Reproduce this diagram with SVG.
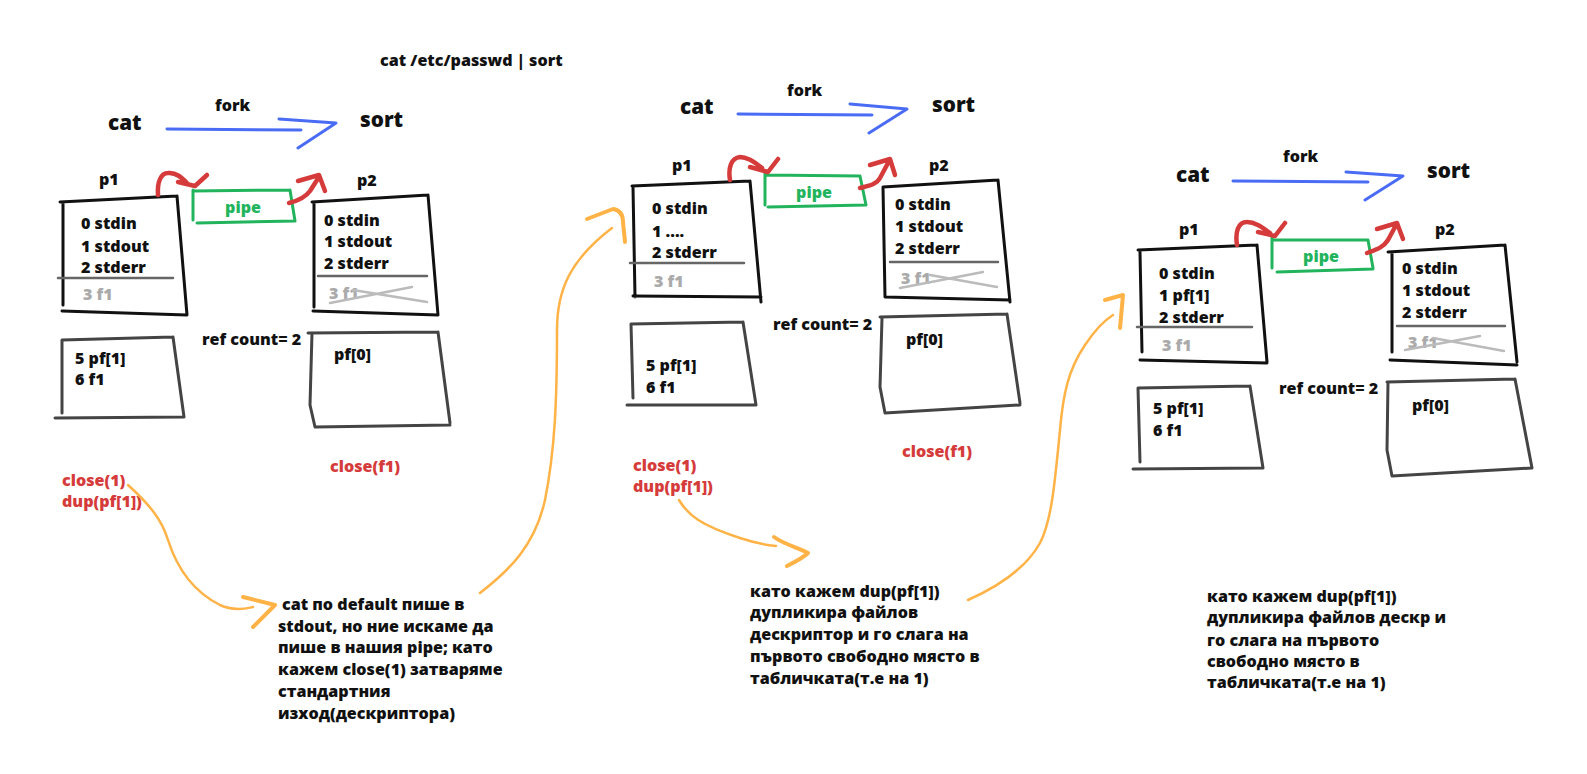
<svg xmlns="http://www.w3.org/2000/svg" width="1587" height="774" viewBox="0 0 1587 774">
<style>
text{font-family:"Open Sans","Noto Sans",sans-serif;font-weight:800;font-size:16.1px;fill:#111}
.big{font-size:20.7px}
.gray{fill:#aaa}
.red{fill:#d63b3b}
.green{fill:#22b45c}
.mid{text-anchor:middle}
path{fill:none;stroke-linecap:round;stroke-linejoin:round}
.bx{stroke:#111;stroke-width:3}
.bl{stroke:#444;stroke-width:3}
.sep{stroke:#666;stroke-width:2.5}
.x{stroke:#bbb;stroke-width:2.5}
.pp{stroke:#22b45c;stroke-width:3}
.rd{stroke:#d63b3b;stroke-width:4.5}
.bu{stroke:#4a6cf5;stroke-width:3}
.or{stroke:#ffb347;stroke-width:2.5}
.orh{stroke:#ffb347;stroke-width:4}
</style>
<rect width="1587" height="774" fill="#fff"/>

<g id="title"><text x="380" y="66">cat /etc/passwd | sort</text></g>

<!-- Panel 1 -->
<g id="p1-cat"><text class="big" x="108" y="130">cat</text></g>
<g id="p1-sort"><text class="big" x="360" y="127">sort</text></g>
<g id="p1-proc1">
<text x="99" y="185">p1</text>
<path class="bx" d="M63,202 L63,305 M60,202 L177,196 M177,196 L187,315 M62,311 L187,315"/>
<path class="sep" d="M58,278 L173,278"/>
<text x="81" y="229">0 stdin</text><text x="81" y="252">1 stdout</text><text x="81" y="273">2 stderr</text>
<text class="gray" x="83" y="300">3 f1</text>
</g>
<g id="p1-pipe">
<path class="pp" d="M193,190 L193,220 M193,191 L290,190 M290,190 L295,221 M197,223 L295,221"/>
<text class="green mid" x="243" y="213">pipe</text>
</g>
<g id="p1-proc2">
<text x="357" y="186">p2</text>
<path class="bx" d="M314,202 L314,307 M312,202 L428,195 M428,195 L438,315 M313,311 L438,315"/>
<path class="sep" d="M318,276 L427,276"/>
<text x="324" y="226">0 stdin</text><text x="324" y="247">1 stdout</text><text x="324" y="269">2 stderr</text>
<text class="gray" x="329" y="299">3 f1</text>
<path class="x" d="M330,303 L412,287 M353,290 L427,302"/>
</g>
<g id="p1-table1">
<path class="bl" d="M62,340 L62,413 M62,340 L173,337 M173,337 L184,417 M55,418 L184,417"/>
<text x="75" y="364">5 pf[1]</text><text x="75" y="385">6 f1</text>
</g>
<g id="p1-ref"><text x="202" y="345">ref count= 2</text></g>
<g id="p1-table2">
<path class="bl" d="M312,333 L310,405 L315,427 M308,333 L438,332 M438,332 L450,423 M315,427 L450,425"/>
<text x="334" y="360">pf[0]</text>
</g>
<g id="p1-closef1"><text class="red" x="330" y="472">close(f1)</text></g>
<g id="p1-dup"><text class="red" x="62" y="486">close(1)</text><text class="red" x="62" y="507">dup(pf[1])</text></g>
<g id="p1-note">
<text x="282" y="610">cat по default пише в</text>
<text x="278" y="632">stdout, но ние искаме да</text>
<text x="278" y="653">пише в нашия pipe; като</text>
<text x="278" y="675">кажем close(1) затваряме</text>
<text x="278" y="697">стандартния</text>
<text x="278" y="719">изход(дескриптора)</text>
</g>

<!-- Panel 2 -->
<g id="p2-cat"><text class="big" x="680" y="114">cat</text></g>
<g id="p2-sort"><text class="big" x="932" y="112">sort</text></g>
<g id="p2-proc1">
<text x="672" y="171">p1</text>
<path class="bx" d="M633,187 L635,297 M632,186 L750,181 M750,181 L761,302 M633,296 L761,297"/>
<path class="sep" d="M630,263 L744,263"/>
<text x="652" y="214">0 stdin</text><text x="652" y="237">1 ....</text><text x="652" y="258">2 stderr</text>
<text class="gray" x="654" y="287">3 f1</text>
</g>
<g id="p2-pipe">
<path class="pp" d="M765,173 L765,205 M765,175 L860,176 M860,176 L866,205 M768,207 L866,205"/>
<text class="green mid" x="814" y="198">pipe</text>
</g>
<g id="p2-proc2">
<text x="929" y="171">p2</text>
<path class="bx" d="M883,187 L885,297 M883,187 L998,180 M998,180 L1010,302 M885,297 L1010,300"/>
<path class="sep" d="M890,262 L998,262"/>
<text x="895" y="210">0 stdin</text><text x="895" y="232">1 stdout</text><text x="895" y="254">2 stderr</text>
<text class="gray" x="901" y="284">3 f1</text>
<path class="x" d="M900,288 L983,272 M930,275 L997,287"/>
</g>
<g id="p2-table1">
<path class="bl" d="M631,324 L633,398 M631,324 L743,322 M743,322 L756,405 M627,405 L756,405"/>
<text x="646" y="371">5 pf[1]</text><text x="646" y="393">6 f1</text>
</g>
<g id="p2-ref"><text x="773" y="330">ref count= 2</text></g>
<g id="p2-table2">
<path class="bl" d="M882,318 L880,387 L885,413 M880,317 L1007,314 M1007,314 L1020,403 M885,413 L1020,405"/>
<text x="906" y="345">pf[0]</text>
</g>
<g id="p2-closef1"><text class="red" x="902" y="457">close(f1)</text></g>
<g id="p2-dup"><text class="red" x="633" y="471">close(1)</text><text class="red" x="633" y="492">dup(pf[1])</text></g>
<g id="p2-note">
<text x="750" y="597">като кажем dup(pf[1])</text>
<text x="750" y="618">дупликира файлов</text>
<text x="750" y="640">дескриптор и го слага на</text>
<text x="750" y="662">първото свободно място в</text>
<text x="750" y="684">табличката(т.е на 1)</text>
</g>

<!-- Panel 3 -->
<g id="p3-cat"><text class="big" x="1176" y="182">cat</text></g>
<g id="p3-sort"><text class="big" x="1427" y="178">sort</text></g>
<g id="p3-proc1">
<text x="1179" y="235">p1</text>
<path class="bx" d="M1140,252 L1142,352 M1138,250 L1257,245 M1257,245 L1267,362 M1140,360 L1267,363"/>
<path class="sep" d="M1137,327 L1252,327"/>
<text x="1159" y="279">0 stdin</text><text x="1159" y="301">1 pf[1]</text><text x="1159" y="323">2 stderr</text>
<text class="gray" x="1162" y="351">3 f1</text>
</g>
<g id="p3-pipe">
<path class="pp" d="M1272,237 L1272,268 M1272,240 L1368,240 M1368,240 L1373,268 M1277,272 L1373,269"/>
<text class="green mid" x="1321" y="262">pipe</text>
</g>
<g id="p3-proc2">
<text x="1435" y="235">p2</text>
<path class="bx" d="M1392,252 L1392,352 M1388,252 L1505,245 M1505,245 L1517,362 M1390,360 L1517,365"/>
<path class="sep" d="M1397,326 L1505,326"/>
<text x="1402" y="274">0 stdin</text><text x="1402" y="296">1 stdout</text><text x="1402" y="318">2 stderr</text>
<text class="gray" x="1408" y="348">3 f1</text>
<path class="x" d="M1405,350 L1480,336 M1433,338 L1504,351"/>
</g>
<g id="p3-table1">
<path class="bl" d="M1138,388 L1140,462 M1138,388 L1250,386 M1250,386 L1263,468 M1133,469 L1263,468"/>
<text x="1153" y="414">5 pf[1]</text><text x="1153" y="436">6 f1</text>
</g>
<g id="p3-ref"><text x="1279" y="394">ref count= 2</text></g>
<g id="p3-table2">
<path class="bl" d="M1388,382 L1387,450 L1392,476 M1387,382 L1515,379 M1515,379 L1532,468 M1392,476 L1532,468"/>
<text x="1412" y="411">pf[0]</text>
</g>
<g id="p3-note">
<text x="1207" y="602">като кажем dup(pf[1])</text>
<text x="1207" y="623">дупликира файлов дескр и</text>
<text x="1207" y="646">го слага на първото</text>
<text x="1207" y="667">свободно място в</text>
<text x="1207" y="688">табличката(т.е на 1)</text>
</g>

<!-- Connectors -->
<g id="connectors">
<text x="215" y="111">fork</text>
<path class="bu" d="M167,129 L301,130 M279,119 L336,123 L298,148"/>
<text x="787" y="96">fork</text>
<path class="bu" d="M738,114 L872,115 M850,104 L907,109 L869,133"/>
<text x="1283" y="162">fork</text>
<path class="bu" d="M1233,181 L1368,182 M1346,172 L1403,176 L1365,200"/>

<path class="rd" d="M158,195 C157,182 161,173 168,173 C176,172 182,178 187,183 M178,182 L195,186 L207,175"/>
<path class="rd" d="M289,203 C297,201 305,198 310,191 L317,180 M298,181 L319,175 L325,191"/>
<path class="rd" d="M730,180 C728,168 731,158 740,157 C748,157 756,163 762,168 M750,167 L768,172 L778,159"/>
<path class="rd" d="M860,188 C868,186 876,185 880,178 L888,163 M870,165 L890,159 L895,175"/>
<path class="rd" d="M1237,245 C1235,232 1238,222 1247,222 C1256,222 1263,228 1270,233 M1258,232 L1275,236 L1285,223"/>
<path class="rd" d="M1367,253 C1375,250 1383,248 1388,240 L1395,227 M1377,229 L1397,223 L1403,239"/>

<path class="or" d="M128,485 C150,505 162,520 168,540 C176,565 190,590 220,605 C235,612 248,608 253,607"/>
<path class="orh" d="M243,597 L275,605 L253,627"/>
<path class="or" d="M480,593 C510,570 535,545 545,500 C555,450 557,400 557,330 C557,290 570,260 612,228"/>
<path class="orh" d="M587,219 L613,209 C620,210 623,215 623,222 L625,242"/>
<path class="or" d="M679,500 C688,515 700,525 740,538 C755,543 765,545 776,546"/>
<path class="orh" d="M774,537 C785,545 800,548 808,553 C803,558 795,562 787,566"/>
<path class="or" d="M968,600 C995,588 1025,570 1040,543 C1052,520 1055,480 1060,430 C1063,395 1068,370 1085,345 C1095,330 1105,320 1113,315"/>
<path class="orh" d="M1105,300 L1123,295 L1120,328"/>
</g>
</svg>
